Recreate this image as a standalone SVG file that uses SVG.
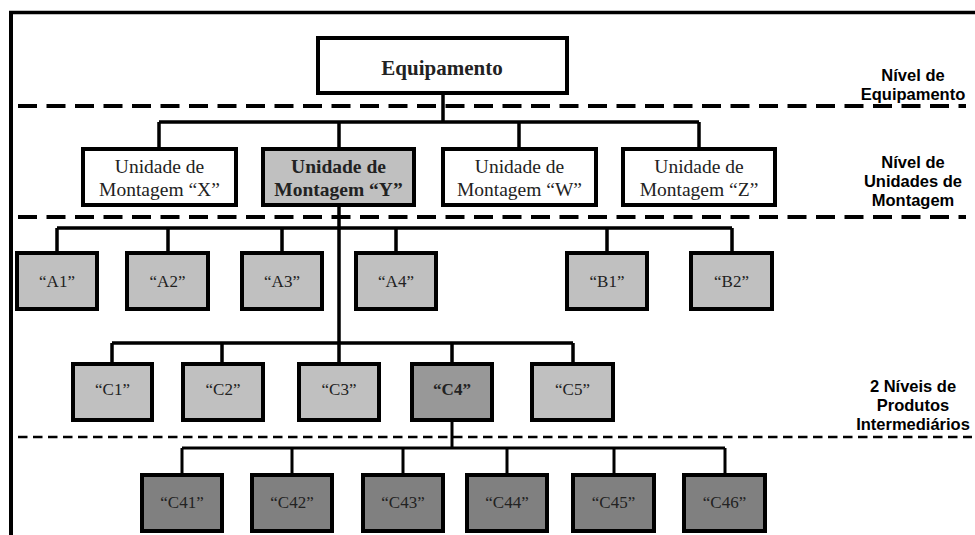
<svg xmlns="http://www.w3.org/2000/svg" width="975" height="535" viewBox="0 0 975 535">
  <style>
    .box { stroke: #000; stroke-width: 4; }
    .white { fill: #fff; }
    .light { fill: #c0c0c0; }
    .mid { fill: #989898; }
    .dark { fill: #808080; }
    .t { font-family: "Liberation Serif", "Times New Roman", serif; fill: #222; text-anchor: middle; }
    .tu { font-size: 19.5px; }
    .tb { font-weight: bold; }
    .ts { font-size: 17px; }
    .lvl { font-family: "Liberation Sans", Arial, sans-serif; font-weight: bold; font-size: 16.5px; fill: #000; text-anchor: middle; }
    .link { fill: none; stroke: #000; stroke-width: 3.5; }
    .link2 { fill: none; stroke: #000; stroke-width: 3; }
    .sepA { stroke: #000; stroke-width: 4; stroke-dasharray: 19 9.5; }
    .sepB { stroke: #000; stroke-width: 2.5; stroke-dasharray: 9.5 5.5; }
  </style>

  <rect width="975" height="535" fill="#fff"/>

  <!-- frame -->
  <g id="frame">
    <line x1="9" y1="12.5" x2="975" y2="12.5" stroke="#000" stroke-width="3.5"/>
    <line x1="11" y1="11" x2="11" y2="535" stroke="#000" stroke-width="4"/>
  </g>

  <!-- level separators -->
  <g id="separators">
    <line class="sepA" x1="18" y1="106" x2="966" y2="106"/>
    <line class="sepA" x1="18" y1="217" x2="966" y2="217"/>
    <line class="sepB" x1="18" y1="437" x2="972" y2="437"/>
  </g>

  <!-- level labels -->
  <g id="labels">
    <text class="lvl" x="913" y="81">Nível de</text>
    <text class="lvl" x="913" y="100">Equipamento</text>
    <text class="lvl" x="913" y="168">Nível de</text>
    <text class="lvl" x="913" y="187">Unidades de</text>
    <text class="lvl" x="913" y="206">Montagem</text>
    <text class="lvl" x="913" y="392">2 Níveis de</text>
    <text class="lvl" x="913" y="411">Produtos</text>
    <text class="lvl" x="913" y="430">Intermediários</text>
  </g>

  <!-- connectors -->
  <g id="connectors">
    <path class="link" d="M443 93 V122 M159 122 H699 M159 122 V149 M339 122 V149 M519 122 V149 M699 122 V149"/>
    <path class="link" d="M339 205 V364 M57 228 H732 M57 228 V253 M168 228 V253 M282 228 V253 M396 228 V253 M607 228 V253 M732 228 V253"/>
    <path class="link" d="M112 343 H573 M112 343 V364 M222 343 V364 M452 343 V364 M573 343 V364"/>
    <path class="link2" d="M452 420 V448 M182 448 H725 M182 448 V475 M292 448 V475 M403 448 V475 M507 448 V475 M614 448 V475 M725 448 V475"/>
  </g>

  <!-- root -->
  <g id="equipamento">
    <rect class="box white" x="318" y="38" width="249" height="55"/>
    <text class="t tb" x="442" y="75" font-size="21">Equipamento</text>
  </g>

  <!-- assembly units -->
  <g id="unidade-x">
    <rect class="box white" x="83" y="149" width="153" height="56"/>
    <text class="t tu" x="159.5" y="173">Unidade de</text>
    <text class="t tu" x="159.5" y="196">Montagem “X”</text>
  </g>
  <g id="unidade-y">
    <rect class="box light" x="263" y="149" width="151" height="56"/>
    <text class="t tu tb" x="338.5" y="173" font-size="19">Unidade de</text>
    <text class="t tu tb" x="338.5" y="196" font-size="19">Montagem “Y”</text>
  </g>
  <g id="unidade-w">
    <rect class="box white" x="443" y="149" width="153" height="56"/>
    <text class="t tu" x="519.5" y="173">Unidade de</text>
    <text class="t tu" x="519.5" y="196">Montagem “W”</text>
  </g>
  <g id="unidade-z">
    <rect class="box white" x="623" y="149" width="152" height="56"/>
    <text class="t tu" x="699" y="173">Unidade de</text>
    <text class="t tu" x="699" y="196">Montagem “Z”</text>
  </g>

  <!-- first intermediate level -->
  <g id="a1"><rect class="box light" x="17" y="253" width="80" height="56"/><text class="t ts" x="57" y="287">“A1”</text></g>
  <g id="a2"><rect class="box light" x="127" y="253" width="81" height="56"/><text class="t ts" x="167.5" y="287">“A2”</text></g>
  <g id="a3"><rect class="box light" x="242" y="253" width="80" height="56"/><text class="t ts" x="282" y="287">“A3”</text></g>
  <g id="a4"><rect class="box light" x="356" y="253" width="80" height="56"/><text class="t ts" x="396" y="287">“A4”</text></g>
  <g id="b1"><rect class="box light" x="567" y="253" width="80" height="56"/><text class="t ts" x="607" y="287">“B1”</text></g>
  <g id="b2"><rect class="box light" x="691" y="253" width="81" height="56"/><text class="t ts" x="731.5" y="287">“B2”</text></g>

  <g id="c1"><rect class="box light" x="73" y="364" width="79" height="56"/><text class="t ts" x="112.5" y="395">“C1”</text></g>
  <g id="c2"><rect class="box light" x="183" y="364" width="80" height="56"/><text class="t ts" x="223" y="395">“C2”</text></g>
  <g id="c3"><rect class="box light" x="299" y="364" width="80" height="56"/><text class="t ts" x="339" y="395">“C3”</text></g>
  <g id="c4"><rect class="box mid" x="412" y="364" width="80" height="56"/><text class="t ts tb" x="452" y="395">“C4”</text></g>
  <g id="c5"><rect class="box light" x="532" y="364" width="81" height="56"/><text class="t ts" x="572.5" y="395">“C5”</text></g>

  <!-- second intermediate level -->
  <g id="c41"><rect class="box dark" x="142" y="475" width="80" height="56"/><text class="t ts" x="182" y="508">“C41”</text></g>
  <g id="c42"><rect class="box dark" x="252" y="475" width="80" height="56"/><text class="t ts" x="292" y="508">“C42”</text></g>
  <g id="c43"><rect class="box dark" x="363" y="475" width="80" height="56"/><text class="t ts" x="403" y="508">“C43”</text></g>
  <g id="c44"><rect class="box dark" x="467" y="475" width="80" height="56"/><text class="t ts" x="507" y="508">“C44”</text></g>
  <g id="c45"><rect class="box dark" x="573" y="475" width="81" height="56"/><text class="t ts" x="613.5" y="508">“C45”</text></g>
  <g id="c46"><rect class="box dark" x="684" y="475" width="81" height="56"/><text class="t ts" x="724.5" y="508">“C46”</text></g>
</svg>
